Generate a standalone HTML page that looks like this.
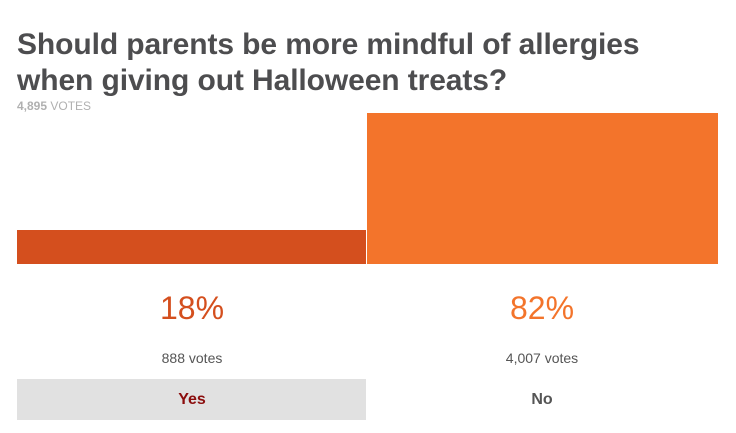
<!DOCTYPE html>
<html><head><style>
body{margin:0;width:736px;height:433px;background:#fff;font-family:"Liberation Sans",sans-serif;position:relative;overflow:hidden}
.a{position:absolute}
h1{position:absolute;left:17px;top:27px;margin:0;font-size:30px;line-height:36px;font-weight:bold;color:#4d4d4f;letter-spacing:-0.1px}
.c{position:absolute;text-align:center;width:350px}
</style></head><body>
<h1>Should parents be more mindful of allergies<br>when giving out Halloween treats?</h1>
<div class="a" style="left:17px;top:99px;font-size:12px;font-weight:bold;color:#b0b0b0">4,895 <span style="font-weight:normal">VOTES</span></div>
<div class="a" style="left:17px;top:230px;width:349px;height:34px;background:#d44f1e"></div>
<div class="a" style="left:367px;top:113px;width:351px;height:151px;background:#f3742b"></div>
<div class="c" style="left:17px;top:290px;font-size:32px;color:#d44f1e">18%</div>
<div class="c" style="left:367px;top:290px;font-size:32px;color:#f3742b">82%</div>
<div class="c" style="left:17px;top:350px;font-size:14px;color:#555">888 votes</div>
<div class="c" style="left:367px;top:350px;font-size:14px;color:#555">4,007 votes</div>
<div class="a" style="left:17px;top:379px;width:349px;height:41px;background:#e1e1e1"></div>
<div class="c" style="left:17px;top:391px;font-size:16px;font-weight:bold;color:#8b0d0d">Yes</div>
<div class="c" style="left:367px;top:391px;font-size:16px;font-weight:bold;color:#555">No</div>
</body></html>
